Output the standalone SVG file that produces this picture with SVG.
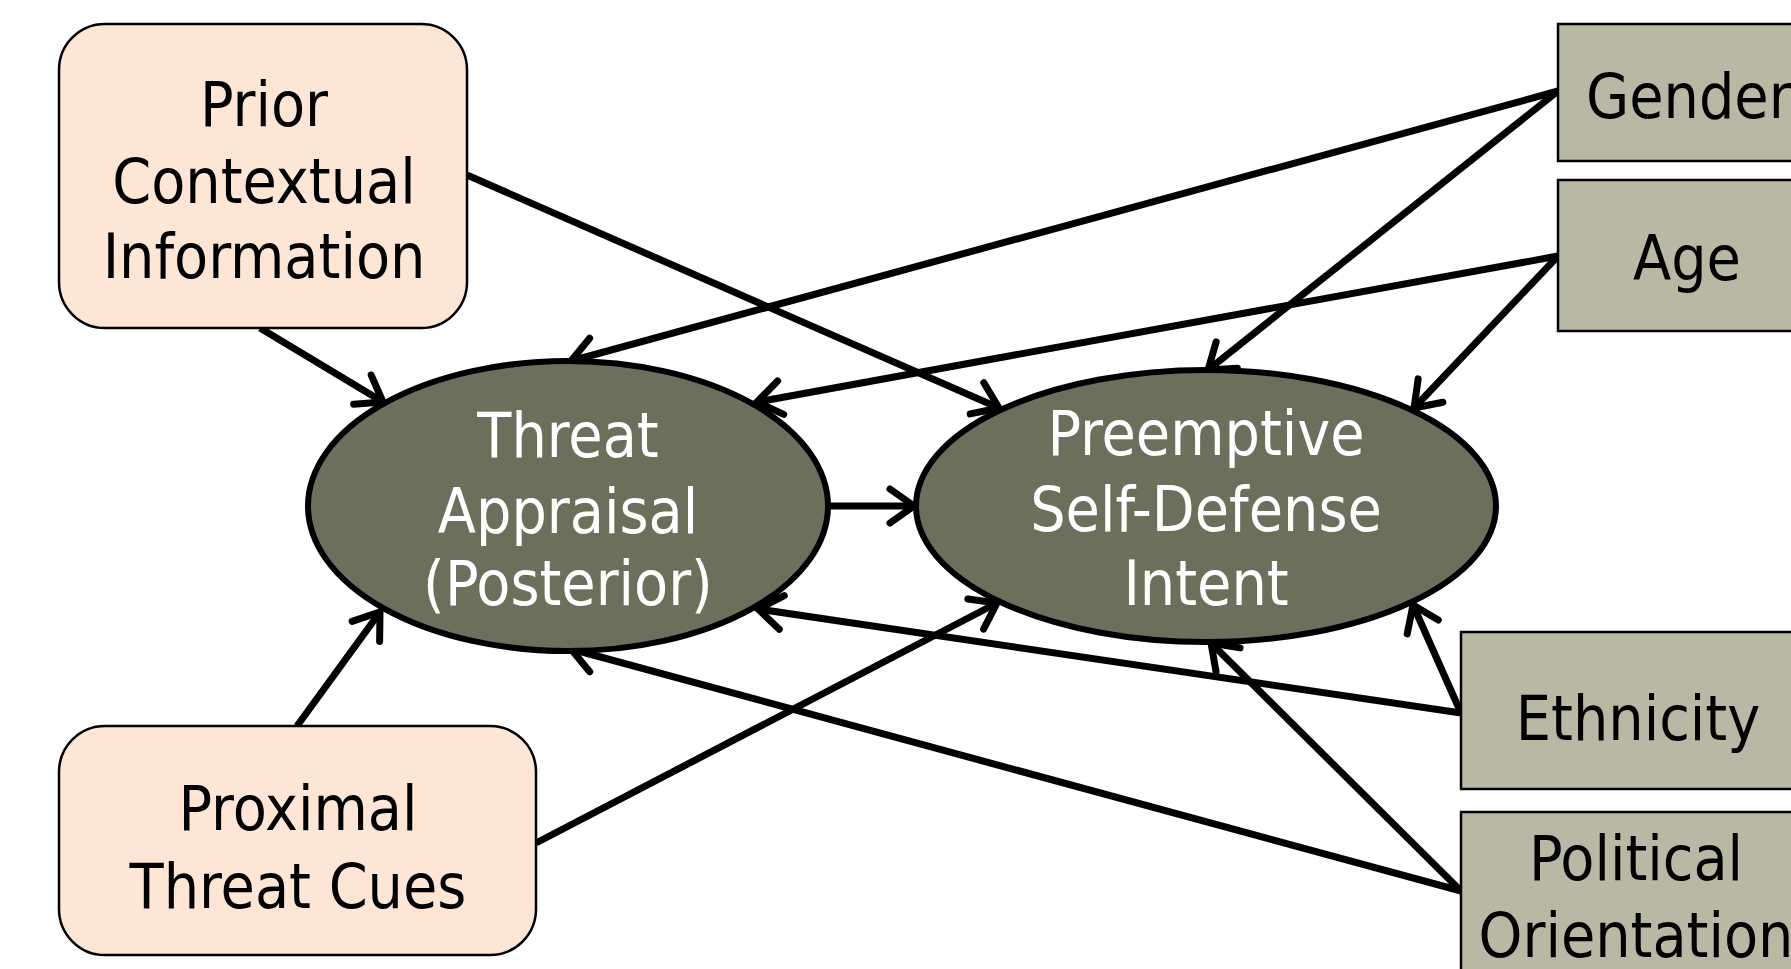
<svg xmlns="http://www.w3.org/2000/svg" width="1791" height="969" viewBox="0 0 1791 969">
<style>
.t{font-family:"DejaVu Sans Condensed","DejaVu Sans",sans-serif;font-size:62px;text-anchor:middle}
.dk{fill:#000}
.wt{fill:#fff}
.peach{fill:#fde6d6;stroke:#000;stroke-width:2.5}
.gray{fill:#b8b8a4;stroke:#000;stroke-width:2.5}
.ell{fill:#6b705c;stroke:#000;stroke-width:6}
.c{stroke:#000;stroke-width:7;fill:none;marker-end:url(#ah)}
</style>
<defs>
<marker id="ah" markerUnits="userSpaceOnUse" markerWidth="44" markerHeight="44" refX="32" refY="22" orient="auto" overflow="visible">
<path d="M8,5 L32,22 L8,39" fill="none" stroke="#000" stroke-width="7" stroke-linecap="round" stroke-linejoin="miter"/>
</marker>
</defs>
<rect width="1791" height="969" fill="#fff"/>
<g id="connectors">
<line class="c" x1="260" y1="328" x2="383" y2="402"/>
<line class="c" x1="467" y1="175" x2="999" y2="408"/>
<line class="c" x1="297" y1="726" x2="380" y2="612"/>
<line class="c" x1="536" y1="843" x2="997" y2="603"/>
<line class="c" x1="828" y1="506" x2="914" y2="506"/>
<line class="c" x1="1558" y1="91" x2="571" y2="361"/>
<line class="c" x1="1558" y1="91" x2="1208" y2="370"/>
<line class="c" x1="1558" y1="256" x2="757" y2="402"/>
<line class="c" x1="1558" y1="256" x2="1414" y2="408"/>
<line class="c" x1="1461" y1="713" x2="758" y2="609"/>
<line class="c" x1="1461" y1="713" x2="1413" y2="605"/>
<line class="c" x1="1461" y1="891" x2="571" y2="649"/>
<line class="c" x1="1461" y1="891" x2="1211" y2="643"/>
</g>
<g id="prior">
<rect class="peach" x="59" y="24" width="408" height="304" rx="46"/>
<text class="t dk" x="264" y="126">Prior</text>
<text class="t dk" x="264" y="203">Contextual</text>
<text class="t dk" x="264" y="278">Information</text>
</g>
<g id="proximal">
<rect class="peach" x="59" y="726" width="477" height="229" rx="46"/>
<text class="t dk" x="298" y="830">Proximal</text>
<text class="t dk" x="298" y="908">Threat Cues</text>
</g>
<g id="threat">
<ellipse class="ell" cx="568" cy="506" rx="260" ry="145"/>
<text class="t wt" x="568" y="457">Threat</text>
<text class="t wt" x="568" y="533">Appraisal</text>
<text class="t wt" x="568" y="605">(Posterior)</text>
</g>
<g id="preemptive">
<ellipse class="ell" cx="1206" cy="506" rx="290" ry="136"/>
<text class="t wt" x="1206" y="455">Preemptive</text>
<text class="t wt" x="1206" y="531">Self-Defense</text>
<text class="t wt" x="1206" y="605">Intent</text>
</g>
<g id="gender">
<rect class="gray" x="1558" y="24" width="260" height="137"/>
<text class="t dk" x="1586" y="118" style="text-anchor:start">Gender</text>
</g>
<g id="age">
<rect class="gray" x="1558" y="180" width="260" height="151"/>
<text class="t dk" x="1687" y="280">Age</text>
</g>
<g id="ethnicity">
<rect class="gray" x="1461" y="632" width="360" height="157"/>
<text class="t dk" x="1638" y="740">Ethnicity</text>
</g>
<g id="political">
<rect class="gray" x="1461" y="812" width="360" height="180"/>
<text class="t dk" x="1636" y="880">Political</text>
<text class="t dk" x="1636" y="957">Orientation</text>
</g>
</svg>
